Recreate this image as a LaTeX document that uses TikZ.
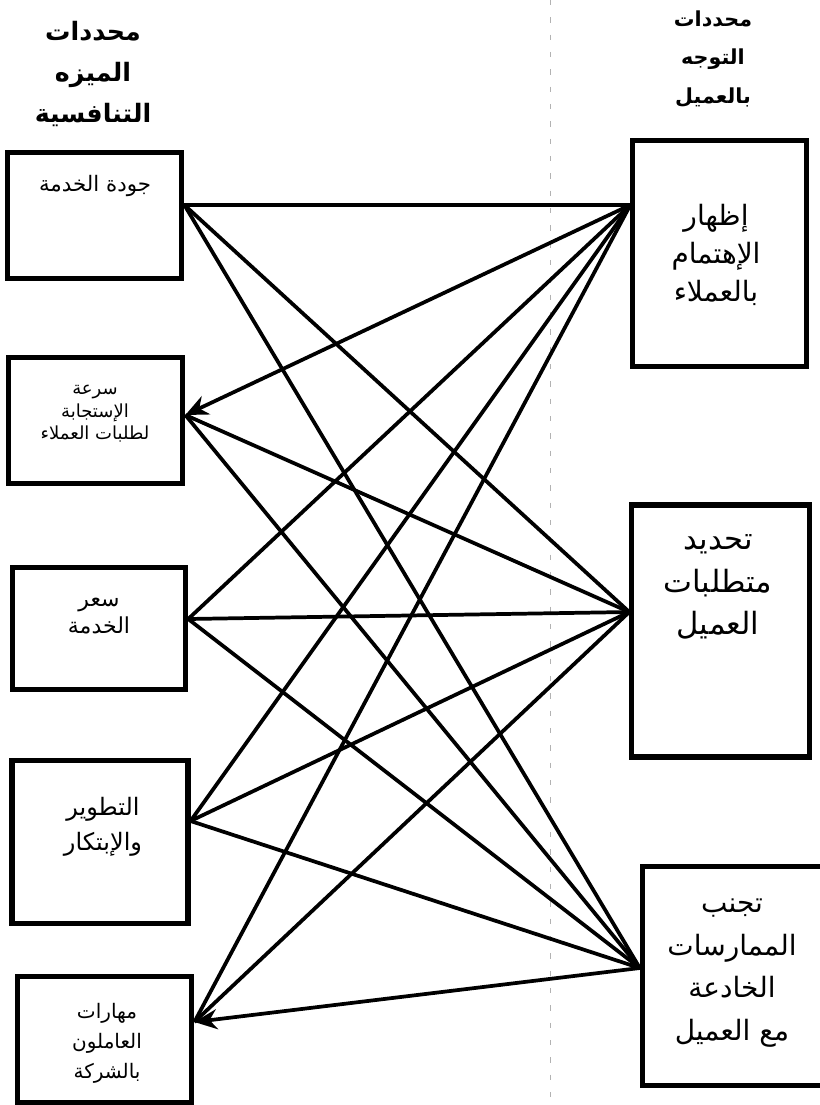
\documentclass[tikz,border=0pt]{standalone}
\usepackage{fontspec}
\newfontfamily\arabicfont[Script=Arabic]{DejaVu Sans}
\TeXXeTstate=1
\usetikzlibrary{arrows.meta}
\newcommand{\artxt}[1]{\beginR #1\endR}

\begin{document}
\begin{tikzpicture}[x=0.75pt, y=-0.75pt,
  box/.style={draw, line width=3.8pt, inner sep=0pt},
  link/.style={line width=2.8pt},
  head/.style={-{Stealth[length=17pt, width=15pt]}, line width=2.8pt},
  title/.style={align=center, font=\arabicfont\bfseries\fontsize{19}{31}\selectfont}]
  \useasboundingbox (0,0) rectangle (819,1105);

  % Fold line of the scanned page
  \draw[gray!60, thin, dash pattern=on 4pt off 9pt] (550,0) -- (550,1105);

  % Column headings
  \node[title] (tl) at (93,74) {\artxt{محددات}\\\artxt{الميزه}\\\artxt{التنافسية}};
  \node[title, font=\arabicfont\bfseries\fontsize{15.5}{29}\selectfont] (tr) at (713,59)
    {\artxt{محددات}\\\artxt{التوجه}\\\artxt{بالعميل}};

  % Left boxes (competitive advantage)
  \node[box, minimum width=131pt, minimum height=94pt]  (l1) at (94.5,215.5) {};
  \node[box, minimum width=131pt, minimum height=95pt]  (l2) at (95.5,420.5) {};
  \node[box, minimum width=130pt, minimum height=92pt]  (l3) at (99,628.5) {};
  \node[box, minimum width=132pt, minimum height=122pt] (l4) at (100,842) {};
  \node[box, minimum width=131pt, minimum height=95pt]  (l5) at (104.5,1039.5) {};

  \node[align=center, font=\arabicfont\fontsize{16}{20}\selectfont] (t1) at (95,186)
    {\artxt{جودة الخدمة}};
  \node[align=center, font=\arabicfont\fontsize{13.5}{16.9}\selectfont] (t2) at (95,414)
    {\artxt{سرعة}\\\artxt{الإستجابة}\\\artxt{لطلبات العملاء}};
  \node[align=center, font=\arabicfont\fontsize{16.5}{20.5}\selectfont] (t3) at (99,616)
    {\artxt{سعر}\\\artxt{الخدمة}};
  \node[align=center, font=\arabicfont\fontsize{18}{26}\selectfont] (t4) at (103,827)
    {\artxt{التطوير}\\\artxt{والإبتكار}};
  \node[align=center, font=\arabicfont\fontsize{15}{22.5}\selectfont] (t5) at (107,1043)
    {\artxt{مهارات}\\\artxt{العاملون}\\\artxt{بالشركة}};

  % Right boxes (customer orientation)
  \node[box, minimum width=130pt, minimum height=169pt] (r1) at (719.5,253.5) {};
  \node[box, minimum width=133pt, minimum height=189pt] (r2) at (720.5,631) {};
  \node[box, minimum width=142pt, minimum height=164pt] (r3) at (737,976) {};

  \node[align=center, font=\arabicfont\fontsize{21}{28.5}\selectfont] (s1) at (716,255)
    {\artxt{إظهار}\\\artxt{الإهتمام}\\\artxt{بالعملاء}};
  \node[align=center, font=\arabicfont\fontsize{23}{32}\selectfont] (s2) at (718,587)
    {\artxt{تحديد}\\\artxt{متطلبات}\\\artxt{العميل}};
  \node[align=center, font=\arabicfont\fontsize{21}{32}\selectfont] (s3) at (732,973)
    {\artxt{تجنب}\\\artxt{الممارسات}\\\artxt{الخادعة}\\\artxt{مع العميل}};

  % Junction points on the box edges
  \coordinate (j1) at (l1.east |- 0,205);
  \coordinate (j2) at (l2.east |- 0,415);
  \coordinate (j3) at (l3.east |- 0,619);
  \coordinate (j4) at (l4.east |- 0,821);
  \coordinate (j5) at (l5.east |- 0,1022);
  \coordinate (k1) at (r1.west |- 0,205);
  \coordinate (k2) at (r2.west |- 0,612);
  \coordinate (k3) at (r3.west |- 0,968);

  % Links
  \foreach \a/\b in {1/1,1/2,1/3,2/2,2/3,3/1,3/2,3/3,4/1,4/2,4/3,5/1,5/2} {
    \draw[link] (j\a) -- (k\b);
  }
  \draw[head] (k1) -- (j2);
  \draw[head] (k3) -- (j5);
\end{tikzpicture}
\end{document}
